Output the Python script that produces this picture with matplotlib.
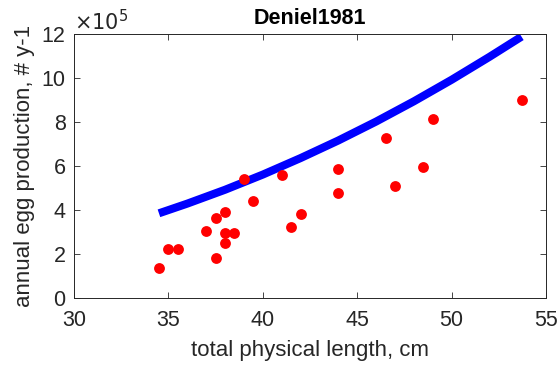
import matplotlib
matplotlib.use("Agg")
import matplotlib.pyplot as plt
from matplotlib.ticker import FuncFormatter

plt.rcParams['font.family'] = ['Liberation Sans', 'DejaVu Sans']

# ---------------- Data ---------------- #
length_cm = [34.5, 35.0, 35.5, 37.0, 37.5, 37.5, 38.0, 38.0, 38.0, 38.5, 39.0,
             39.5, 41.0, 41.5, 42.0, 44.0, 44.0, 46.5, 47.0, 48.5, 49.0, 53.75]
eggs_per_year = [138000, 221000, 224000, 306000, 362000, 183000, 389000, 294000,
                 251000, 294000, 539000, 439000, 559000, 324000, 382000, 585000,
                 476000, 729000, 510000, 594000, 815000, 900000]

# fitted curve
fit_length = [34.5, 36, 38, 40, 42, 44, 46, 48, 50, 52, 53.7]
fit_eggs = [385000, 429000, 492000, 561000, 636000, 716000, 802000, 894000,
            992000, 1096000, 1188000]

y_ticks = [0, 2e5, 4e5, 6e5, 8e5, 10e5, 12e5]
x_ticks = [30, 35, 40, 45, 50, 55]

# ---------------- Plot ---------------- #
fig = plt.figure(figsize=(5.6, 3.7), dpi=100)
ax = fig.add_axes([0.1321, 0.1946, 0.843, 0.7135])

ax.plot(fit_length, fit_eggs, color="#0000ff", lw=5.8, solid_capstyle="butt", zorder=2)
ax.plot(length_cm, eggs_per_year, "o", color="#ff0000", ms=7.8, mec="none", zorder=3)

ax.set_xlim(30, 55)
ax.set_ylim(0, 1.2e6)
ax.set_xticks(x_ticks)
ax.set_yticks(y_ticks)
ax.yaxis.set_major_formatter(FuncFormatter(lambda v, p: f"{v/1e5:g}"))
ax.text(0.0, 1.0, r"$\times10^{5}$", transform=ax.transAxes, fontsize=15,
        color="#262626", ha="left", va="bottom")

ax.tick_params(direction="in", top=True, right=True, labelsize=15.5,
               colors="#262626", length=4, width=0.6)
ax.tick_params(axis="x", pad=9)
ax.tick_params(axis="y", pad=6)
for s in ax.spines.values():
    s.set_color("#262626")
    s.set_linewidth(0.7)

ax.set_xlabel("total physical length, cm", fontsize=16, color="#262626", labelpad=6)
ax.set_ylabel("annual egg production, # y-1", fontsize=16, color="#262626", labelpad=5)
ax.set_title("Deniel1981", fontsize=15.5, fontweight="bold", color="black", pad=7)

fig.savefig("out.png", dpi=100)
